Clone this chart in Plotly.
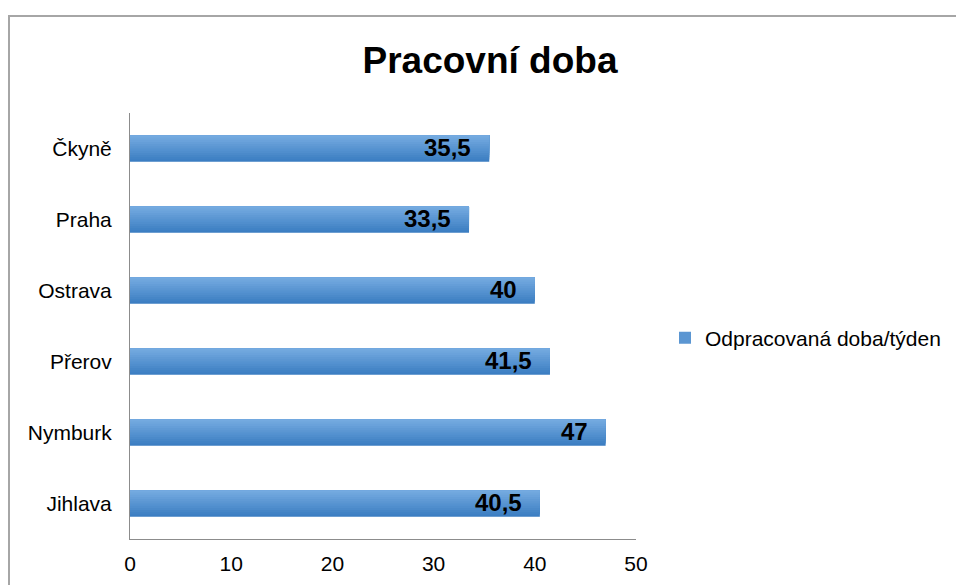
import plotly.graph_objects as go

categories = ["Jihlava", "Nymburk", "Přerov", "Ostrava", "Praha", "Čkyně"]
values = [40.5, 47, 41.5, 40, 33.5, 35.5]
series_name = "Odpracovaná doba/týden"
x_ticks = [0, 10, 20, 30, 40, 50]

W, H = 956, 585
L, R, T, B = 130, 636, 113, 539
pw, ph = R - L, B - T

def fmt(v):
    return f"{v:g}".replace(".", ",")

bar_w = 0.37
n = 12
top_c = (116, 170, 224)
bot_c = (60, 126, 194)

fig = go.Figure()
for i in range(n):
    t = i / (n - 1)
    c = tuple(round(bot_c[k] + (top_c[k] - bot_c[k]) * t) for k in range(3))
    start = -bar_w / 2 + i * bar_w / n
    fig.add_trace(go.Bar(
        x=values, y=categories, orientation="h",
        width=bar_w / 2 - start, offset=start,
        marker=dict(color=f"rgb{c}", line=dict(width=0)),
        name=series_name, showlegend=(i == n // 2), hoverinfo="skip",
    ))

for v, c in zip(values, categories):
    fig.add_annotation(x=v, y=c, xref="x", yref="y", text=f"<b>{fmt(v)}</b>",
                       showarrow=False, xanchor="right", yanchor="middle",
                       xshift=-16, yshift=1,
                       font=dict(family="Arial, Liberation Sans", size=24, color="black"))

fig.add_shape(type="rect", xref="paper", yref="paper",
              x0=(9 - L) / pw, x1=(W + 20 - L) / pw,
              y0=(B - (H + 20)) / ph, y1=(B - 16) / ph,
              line=dict(color="#a6a6a6", width=2), fillcolor="rgba(0,0,0,0)", layer="below")

fig.update_layout(
    width=W, height=H,
    margin=dict(l=L, r=W - R, t=T, b=H - B, autoexpand=False),
    paper_bgcolor="white", plot_bgcolor="white",
    barmode="overlay",
    font=dict(family="Arial, Liberation Sans", size=21, color="black"),
    title=dict(text="<b>Pracovní doba</b>", x=490 / W, xanchor="center",
               y=1 - 60 / H, yanchor="middle", yref="container",
               font=dict(family="Arial, Liberation Sans", size=37, color="black")),
    xaxis=dict(range=[0, 50], tickvals=x_ticks, ticktext=[str(v) for v in x_ticks],
               showgrid=False, zeroline=False, showline=True, linecolor="#8c8c8c",
               linewidth=1, ticks="", ticklabelstandoff=6,
               tickfont=dict(size=21)),
    yaxis=dict(categoryorder="array", categoryarray=categories, showgrid=False,
               zeroline=False, showline=True, linecolor="#8c8c8c", linewidth=1,
               ticks="", ticklabelstandoff=13, tickfont=dict(size=21)),
    legend=dict(x=(665 - L) / pw, xanchor="left", y=(B - 338) / ph, yanchor="middle",
                font=dict(size=21), bgcolor="rgba(0,0,0,0)"),
)

fig.write_html("out.html")
